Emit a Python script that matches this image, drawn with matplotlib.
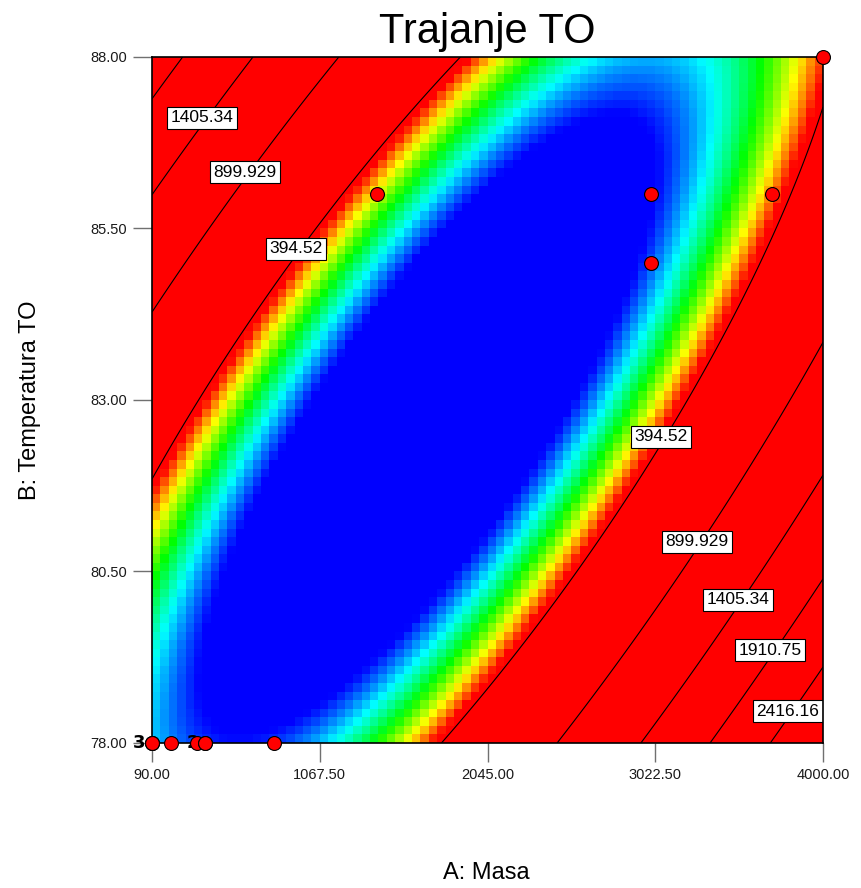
import numpy as np
import matplotlib
matplotlib.use("Agg")
import matplotlib.pyplot as plt
from matplotlib.colors import LinearSegmentedColormap
from matplotlib.transforms import offset_copy

plt.rcParams['font.family'] = ['Liberation Sans', 'DejaVu Sans']

# quadratic model in coded units: 1, a, b, ab, a^2, b^2
coef = [-87.328, 248.722, -126.787, -1151.486, 938.628, 529.567]
a_lo, a_hi = 90.0, 4000.0
b_lo, b_hi = 78.0, 88.0

# contour levels shown
levels = [394.52, 899.929, 1405.34, 1910.75, 2416.16]

# design points
masa = [90, 90, 90, 200, 350, 400, 400, 800, 1400, 3000, 3700, 3000, 4000]
temp = [78, 78, 78, 78, 78, 78, 78, 78, 86, 86, 86, 85, 88]

xticks = [90.0, 1067.5, 2045.0, 3022.5, 4000.0]
yticks = [78.0, 80.5, 83.0, 85.5, 88.0]

# where contour labels sit (A, B)
lab_pos = [(370, 87.10), (610, 86.32), (900, 85.22), (3035, 82.46),
           (3245, 80.93), (3480, 80.09), (3670, 79.35), (3770, 78.47)]


def model(A, B):
    a = (A - (a_lo + a_hi) / 2) / ((a_hi - a_lo) / 2)
    b = (B - (b_lo + b_hi) / 2) / ((b_hi - b_lo) / 2)
    return (coef[0] + coef[1]*a + coef[2]*b + coef[3]*a*b
            + coef[4]*a**2 + coef[5]*b**2)


fig = plt.figure(figsize=(8.61, 8.88), dpi=100)
ax = fig.add_axes([152/861, 145/888, 671/861, 686/888])

# coloured surface, coarse grid
n = 80
ea = np.linspace(a_lo, a_hi, n + 1)
eb = np.linspace(b_lo, b_hi, n + 1)
ca = (ea[:-1] + ea[1:]) / 2
cb = (eb[:-1] + eb[1:]) / 2
CA, CB = np.meshgrid(ca, cb)
cmap = LinearSegmentedColormap.from_list(
    "de", ["#0000ff", "#00ffff", "#00ff00", "#ffff00", "#ff0000"])
ax.pcolormesh(ea, eb, model(CA, CB), cmap=cmap, vmin=40, vmax=365,
              shading="flat", zorder=1)

# contour lines
fa = np.linspace(a_lo, a_hi, 400)
fb = np.linspace(b_lo, b_hi, 400)
FA, FB = np.meshgrid(fa, fb)
cs = ax.contour(FA, FB, model(FA, FB), levels=levels, colors="k",
                linewidths=0.8, zorder=2)
texts = ax.clabel(cs, fmt=lambda v: f"{v:g}", inline=False, fontsize=12.5,
                  colors="k", manual=lab_pos)
for t in texts:
    t.set_rotation(0)
    t.set_transform(offset_copy(ax.transData, fig=fig, x=-2, y=4, units="dots"))
    t.set_bbox(dict(boxstyle="square,pad=0.2", facecolor="white",
                    edgecolor="black", linewidth=0.8))
    t.set_zorder(3)

# design points + replicate counts
ax.plot(masa, temp, "o", ms=10, mfc="#ff0000", mec="black", mew=0.8,
        clip_on=False, zorder=6)
seen = {}
for m, t in zip(masa, temp):
    seen[(m, t)] = seen.get((m, t), 0) + 1
for (m, t), k in seen.items():
    if k > 1:
        ax.annotate(str(k), (m, t), xytext=(-4.5, 0), textcoords="offset points",
                    ha="right", va="center", fontsize=13, fontweight="bold",
                    family="DejaVu Sans", annotation_clip=False, zorder=5)

ax.set_xlim(a_lo, a_hi)
ax.set_ylim(b_lo, b_hi)
ax.set_xticks(xticks)
ax.set_xticklabels([f"{v:.2f}" for v in xticks])
ax.set_yticks(yticks)
ax.set_yticklabels([f"{v:.2f}" for v in yticks])
ax.tick_params(direction="out", length=14, width=1, color="#707070",
               labelsize=10.5, labelcolor="#1a1a1a", pad=4)
for s in ax.spines.values():
    s.set_linewidth(1.2)
    s.set_zorder(4)

ax.set_title("Trajanje TO", fontsize=30, pad=10)
fig.text(486/861, 1 - 873/888, "A: Masa", fontsize=17, ha="center", va="center")
fig.text(30/861, 1 - 400/888, "B: Temperatura TO", fontsize=17, ha="center",
         va="center", rotation=90)

fig.savefig("out.png")
